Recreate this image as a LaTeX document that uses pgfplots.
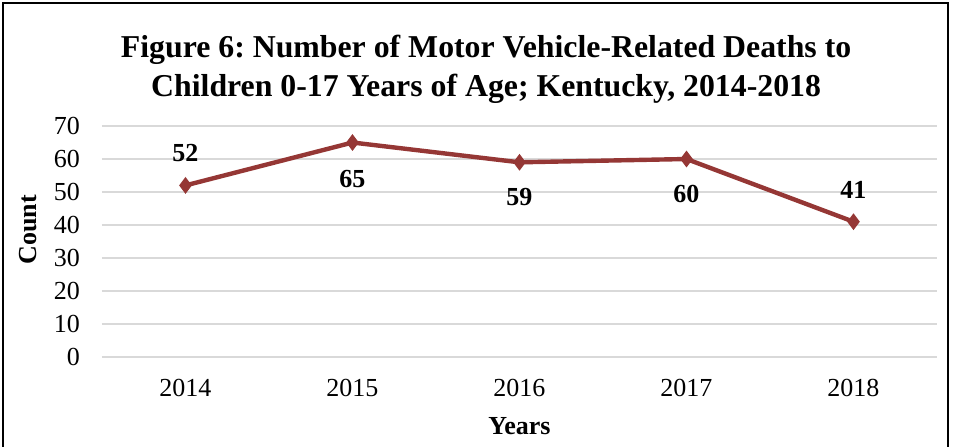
\documentclass[border=0pt]{standalone}
\usepackage{pgfplots}
\pgfplotsset{compat=1.18}
\usepackage{fontspec}
\setmainfont{Liberation Serif}
\frenchspacing
\definecolor{linered}{HTML}{953735}
\definecolor{gridgray}{HTML}{D9D9D9}
\begin{document}
\begin{tikzpicture}
\useasboundingbox (-51pt,-44.5pt) rectangle (425.5pt,178.5pt);
\draw[line width=1pt] (-49.5pt,-50pt) rectangle (423pt,177pt);
\begin{axis}[
  at={(0pt,0pt)}, anchor=south west,
  scale only axis, width=417.5pt, height=115.5pt,
  xmin=-0.5, xmax=4.5, ymin=0, ymax=70,
  xtick={0,1,2,3,4}, xticklabels={2014,2015,2016,2017,2018},
  ytick={0,10,...,70},
  axis x line*=bottom, axis y line*=left,
  x axis line style={gridgray, line width=1pt, -},
  y axis line style={draw=none},
  ymajorgrids, grid style={gridgray, line width=0.75pt},
  major tick length=0pt,
  tick label style={font=\fontsize{13}{15}\selectfont},
  /pgf/number format/assume math mode=true,
  yticklabel style={xshift=-7.5pt},
  xticklabel style={yshift=-7.5pt},
  ylabel={\textbf{Count}}, ylabel style={font=\fontsize{13}{15}\selectfont, at={(axis description cs:-0.0886,0.55)}, anchor=center},
  xlabel={\textbf{Years}}, xlabel style={font=\fontsize{13}{15}\selectfont, yshift=-3.5pt},
  title={\textbf{Figure 6: Number of Motor Vehicle-Related Deaths to}\\\textbf{Children 0-17 Years of Age; Kentucky, 2014-2018}},
  title style={font=\fontsize{15.9}{19.5}\selectfont, align=center, at={(0.46,1)}, anchor=south, yshift=1.5pt},
  clip=false,
]
\addplot[color=linered, line width=2.2pt, mark=diamond*, mark size=3.8pt, mark options={fill=linered, line width=0.5pt},
  nodes near coords, point meta=explicit,
  visualization depends on={\thisrow{dy} \as \dy},
  every node near coord/.append style={font=\fontsize{13}{15}\selectfont\bfseries, black, anchor=center, yshift=\dy pt},
] table[x=x, y=y, meta=y] {
x y dy
0 52 16
1 65 -18.5
2 59 -17.5
3 60 -17.5
4 41 16
};
\end{axis}
\end{tikzpicture}
\end{document}
